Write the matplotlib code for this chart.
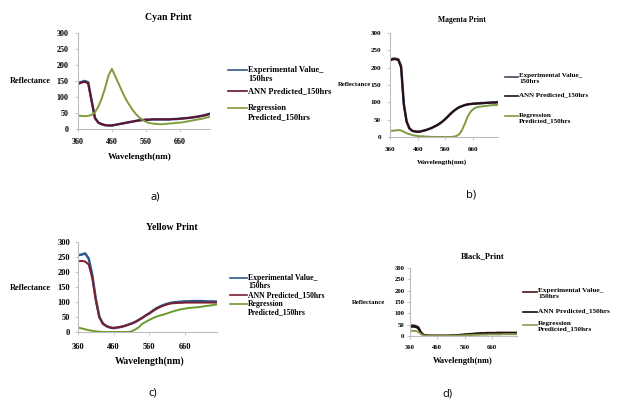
import matplotlib
matplotlib.use("Agg")
import matplotlib.pyplot as plt
from matplotlib.lines import Line2D

# Wavelength categories (nm)
wavelength = [360, 370, 380, 390, 400, 410, 420, 430, 440, 450,
              460, 470, 480, 490, 500, 510, 520, 530, 540, 550,
              560, 570, 580, 590, 600, 610, 620, 630, 640, 650,
              660, 670, 680, 690, 700, 710, 720, 730, 740, 750]
x_ticks = [360, 460, 560, 660]
y_ticks = [0, 50, 100, 150, 200, 250, 300]

# Cyan print
cyan_exp = [143, 147, 150, 146, 90, 35, 20, 15, 12, 11,
            11, 13, 15, 17, 19, 21, 23, 25, 27, 28,
            29, 29, 30, 30, 30, 30, 30, 30, 31, 31,
            32, 33, 34, 35, 37, 38, 40, 42, 45, 48]
cyan_ann = [140, 145, 147, 143, 88, 34, 20, 15, 12, 11,
            11, 13, 15, 17, 19, 21, 23, 25, 27, 28,
            29, 29, 30, 30, 30, 30, 30, 30, 31, 31,
            32, 33, 34, 35, 36, 38, 40, 42, 44, 47]
cyan_reg = [42, 41, 40, 41, 44, 52, 70, 95, 128, 167,
            188, 165, 142, 118, 96, 78, 62, 48, 37, 29,
            23, 19, 17, 16, 15, 15, 16, 17, 18, 19,
            20, 21, 23, 25, 27, 29, 31, 33, 36, 38]

# Magenta print
magenta_exp = [222, 226, 226, 224, 205, 95, 45, 25, 18, 16,
               15, 16, 18, 20, 23, 26, 30, 34, 39, 45,
               52, 60, 68, 75, 81, 86, 89, 92, 94, 95,
               96, 97, 97, 98, 98, 99, 99, 100, 100, 101]
magenta_ann = [220, 224, 224, 222, 200, 92, 44, 25, 18, 16,
               15, 16, 18, 20, 23, 26, 30, 34, 39, 45,
               52, 60, 68, 75, 81, 86, 89, 92, 94, 95,
               96, 96, 97, 97, 98, 98, 99, 99, 99, 100]
magenta_reg = [18, 18, 19, 20, 19, 15, 11, 8, 6, 4,
               3, 2, 2, 1, 1, 0, 0, 0, 0, 0,
               0, 0, 0, 1, 3, 8, 20, 38, 58, 72,
               80, 85, 87, 88, 89, 90, 91, 92, 92, 93]

# Yellow print
yellow_exp = [256, 258, 262, 245, 190, 110, 50, 28, 20, 15,
              13, 15, 17, 20, 24, 28, 33, 40, 47, 55,
              62, 71, 79, 85, 90, 94, 97, 99, 100, 101,
              102, 102, 103, 103, 103, 103, 102, 102, 102, 101]
yellow_ann = [236, 237, 235, 225, 180, 105, 48, 27, 19, 15,
              13, 15, 17, 20, 24, 28, 33, 40, 47, 55,
              62, 70, 77, 83, 88, 92, 95, 96, 97, 97,
              98, 98, 98, 98, 98, 98, 98, 98, 98, 98]
yellow_reg = [15, 12, 9, 6, 4, 2, 1, 0, 0, 0,
              0, 0, 0, 0, 0, 2, 8, 15, 27, 34,
              40, 46, 51, 55, 58, 62, 66, 70, 73, 76,
              78, 80, 81, 82, 83, 85, 87, 88, 90, 92]

# Black print
black_exp = [45, 46, 44, 38, 15, 4, 2, 1, 1, 1,
             1, 1, 1, 1, 1, 2, 2, 3, 4, 5,
             6, 7, 8, 9, 10, 11, 12, 12, 13, 13,
             13, 13, 14, 14, 14, 14, 14, 14, 14, 14]
black_ann = [40, 41, 40, 34, 13, 4, 2, 1, 1, 1,
             1, 1, 1, 1, 1, 2, 2, 3, 4, 5,
             6, 7, 8, 9, 10, 10, 11, 11, 12, 12,
             12, 12, 12, 12, 12, 12, 12, 12, 12, 12]
black_reg = [22, 23, 22, 18, 8, 2, 1, 0, 0, 0,
             0, 0, 0, 0, 0, 1, 1, 2, 2, 3,
             3, 4, 4, 5, 5, 5, 6, 6, 6, 7,
             7, 7, 7, 7, 8, 8, 8, 8, 8, 8]

series_names = ["Experimental Value_\n150hrs", "ANN Predicted_150hrs",
                "Regression\nPredicted_150hrs"]

SERIF = "Liberation Serif"
W, H = 618, 403

fig = plt.figure(figsize=(W / 100, H / 100), dpi=100)
fig.patch.set_facecolor("white")


def fx(px):
    return px / W


def fy(py):
    return 1 - py / H


# fs: title, ticks, y-label, x-label, legend ; pads: x-tick pad, y-tick pad
panels = [
    dict(title="Cyan Print", data=(cyan_exp, cyan_ann, cyan_reg),
         colors=("#35578a", "#62132e", "#7f9c3c"),
         box=(78, 33, 210, 129), fs=(7, 5.8, 6, 6.5, 6), pads=(4.5, 5.0),
         title_xy=(168, 18), ylab_xy=(10, 81), xlab_xy=(140, 157),
         leg_x=(228, 247), leg_y=(70, 91, 108), leg_ls=1.2,
         tag="a)", tag_xy=(155, 197)),
    dict(title="Magenta Print", data=(magenta_exp, magenta_ann, magenta_reg),
         colors=("#3c4a5c", "#2a0c18", "#7f9a40"),
         box=(390, 33, 498, 137), fs=(5.5, 5, 4.8, 5, 5), pads=(5.0, 4.5),
         title_xy=(462, 20), ylab_xy=(338, 85), xlab_xy=(442, 162),
         leg_x=(505, 518), leg_y=(77, 96, 116), leg_ls=1.1,
         tag="b)", tag_xy=(471, 195)),
    dict(title="Yellow Print", data=(yellow_exp, yellow_ann, yellow_reg),
         colors=("#2d5a8e", "#7a1e2e", "#6c9a2c"),
         box=(78, 242, 217, 332), fs=(7, 6, 6, 7, 5.6), pads=(6.0, 3.5),
         title_xy=(172, 228), ylab_xy=(10, 288), xlab_xy=(150, 361),
         leg_x=(230, 247), leg_y=(278, 295, 304), leg_ls=1.05,
         tag="c)", tag_xy=(153, 393)),
    dict(title="Black_Print", data=(black_exp, black_ann, black_reg),
         colors=("#4a1818", "#111111", "#8c9a50"),
         box=(410, 268, 517, 336), fs=(6, 4.8, 4.8, 6, 5.2), pads=(4.5, 2.0),
         title_xy=(483, 256), ylab_xy=(352, 302), xlab_xy=(463, 361),
         leg_x=(523, 537), leg_y=(292, 312, 325), leg_ls=1.1,
         tag="d)", tag_xy=(447, 394)),
]

for p in panels:
    l, t, r, b = p["box"]
    ax = fig.add_axes([fx(l), fy(b), fx(r - l), (b - t) / H])
    title_fs, tick_fs, ylab_fs, xlab_fs, leg_fs = p["fs"]
    widths = (1.8, 1.4, 1.4)
    for vals, col, lw in zip(p["data"], p["colors"], widths):
        ax.plot(wavelength, vals, color=col, lw=lw, solid_capstyle="round")
    ax.set_xlim(wavelength[0], wavelength[-1])
    ax.set_ylim(0, 300)
    ax.set_xticks(x_ticks)
    ax.set_yticks(y_ticks)
    for s in ("top", "right"):
        ax.spines[s].set_visible(False)
    for s in ("left", "bottom"):
        ax.spines[s].set_color("#bdbdbd")
        ax.spines[s].set_linewidth(0.8)
    ax.tick_params(length=2, width=0.6, color="#bdbdbd")
    ax.tick_params(axis="x", pad=p["pads"][0])
    ax.tick_params(axis="y", pad=p["pads"][1])
    for lab in ax.get_xticklabels() + ax.get_yticklabels():
        lab.set_fontfamily(SERIF)
        lab.set_fontweight("bold")
        lab.set_fontsize(tick_fs)
    ax.patch.set_alpha(0)

    fig.text(fx(p["title_xy"][0]), fy(p["title_xy"][1]), p["title"],
             family=SERIF, weight="bold", fontsize=title_fs,
             ha="center", va="center")
    fig.text(fx(p["ylab_xy"][0]), fy(p["ylab_xy"][1]), "Reflectance",
             family=SERIF, weight="bold", fontsize=ylab_fs,
             ha="left", va="center")
    fig.text(fx(p["xlab_xy"][0]), fy(p["xlab_xy"][1]), "Wavelength(nm)",
             family=SERIF, weight="bold", fontsize=xlab_fs,
             ha="center", va="center")

    # legend entries
    lx0, lx1 = p["leg_x"]
    for name, col, ly in zip(series_names, p["colors"], p["leg_y"]):
        fig.add_artist(Line2D([fx(lx0), fx(lx1)], [fy(ly), fy(ly)],
                              color=col, lw=1.2, transform=fig.transFigure))
        fig.text(fx(lx1 + 1), fy(ly - leg_fs * 0.7), name, family=SERIF,
                 weight="bold", fontsize=leg_fs, ha="left", va="top",
                 linespacing=p["leg_ls"])

    fig.text(fx(p["tag_xy"][0]), fy(p["tag_xy"][1]), p["tag"],
             family="Open Sans", fontsize=8, ha="center", va="center")

fig.savefig("out.png", dpi=100, facecolor="white")
